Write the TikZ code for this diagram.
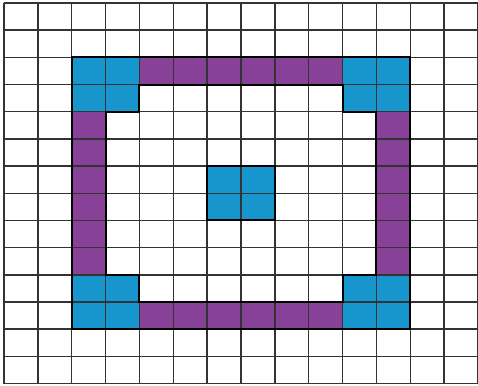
\documentclass[tikz,border=0pt]{standalone}
\usepackage{tikz}

\definecolor{cellblue}{RGB}{22,150,205}
\definecolor{cellpurple}{RGB}{135,65,150}

\begin{document}
\begin{tikzpicture}[x=0.9cm, y=0.7226cm,
    gridline/.style={line width=1.1pt, black!80},
    frameline/.style={line width=1.5pt, black}]

    % 余白 (参照画像の比率に合わせる)
    \useasboundingbox (-0.118, -0.073) rectangle (14, 14.11);

    % 青いマス (四隅の 2x2 と中央の 2x2)
    \foreach \cx/\cy in {2/10, 10/10, 2/2, 10/2, 6/6}
      \fill[cellblue] (\cx, \cy) rectangle ++(2, 2);

    % 紫のマス (上下の辺)
    \fill[cellpurple] (4, 11) rectangle (10, 12);
    \fill[cellpurple] (4, 2) rectangle (10, 3);
    % 紫のマス (左右の辺)
    \fill[cellpurple] (2, 4) rectangle (3, 10);
    \fill[cellpurple] (11, 4) rectangle (12, 10);

    % 方眼 14 x 14
    \foreach \i in {0,...,14} {
      \draw[gridline] (\i, 0) -- (\i, 14);
      \draw[gridline] (0, \i) -- (14, \i);
    }

    % 色付き部分の輪郭
    \draw[frameline] (2, 2) rectangle (12, 12);
    \draw[frameline] (3, 4) -- (3, 10) -- (4, 10) -- (4, 11) -- (10, 11) -- (10, 10)
      -- (11, 10) -- (11, 4) -- (10, 4) -- (10, 3) -- (4, 3) -- (4, 4) -- cycle;
    \draw[frameline] (6, 6) rectangle (8, 8);

  \end{tikzpicture}
\end{document}
